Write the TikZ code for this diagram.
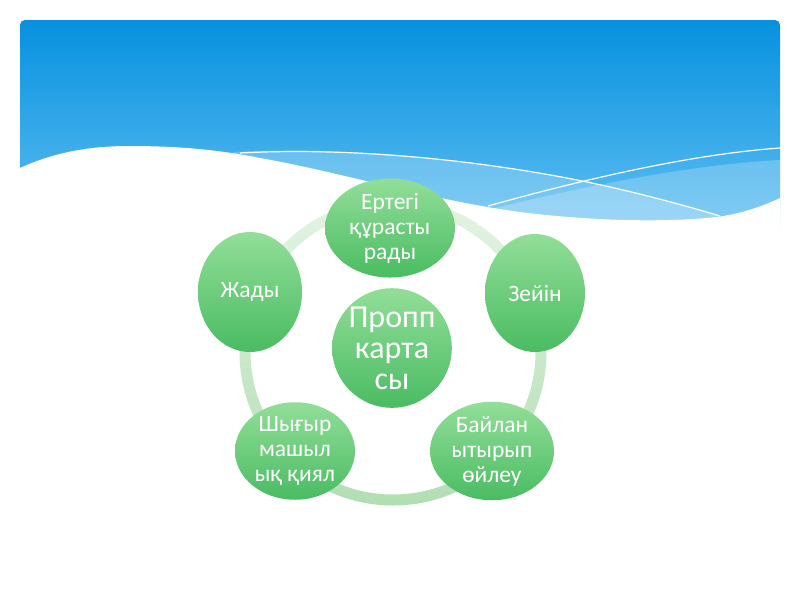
\documentclass[tikz,border=0pt]{standalone}
\usepackage{fontspec}
\setmainfont{Carlito}
\usetikzlibrary{shapes.geometric}
\definecolor{bluetop}{RGB}{6,145,222}
\definecolor{bluebot}{RGB}{98,192,243}
\definecolor{gtop}{RGB}{146,222,152}
\definecolor{gbot}{RGB}{74,188,98}
\definecolor{ringtop}{RGB}{228,243,228}
\definecolor{ringbot}{RGB}{178,222,180}
\tikzset{
  bubble/.style={ellipse, inner sep=0pt, top color=gtop, bottom color=gbot, draw=none,
    text=white, align=center, font=\fontsize{23.5}{25}\selectfont},
  hub/.style={bubble, circle, font=\fontsize{32}{31}\selectfont},
  wline/.style={draw=white, line width=1.2pt},
  band/.style={fill=white, fill opacity=0.22}
}
\begin{document}
\begin{tikzpicture}[x=1pt,y=-1pt]
\useasboundingbox (0,0) rectangle (800,600);
\fill[white] (0,0) rectangle (800,600);
% banner
\path[top color=bluetop, bottom color=bluebot, rounded corners=5pt] (20,20) rectangle (780,235);
% light bands
\path[band] (233,152) .. controls (350,146) and (480,160) .. (587,182) .. controls (640,193) and (690,207) .. (720,216) -- (720,240) -- (233,240) -- cycle;
\path[band] (470,214) .. controls (560,192) and (680,165) .. (780,160) -- (780,240) -- (470,240) -- cycle;
% white lines
\draw[wline] (240,153) .. controls (350,147) and (480,160) .. (587,182) .. controls (640,193) and (690,207) .. (720,216);
\draw[wline] (488,206) .. controls (560,186) and (680,155) .. (780,148);
% white wave
\fill[white] (20,168) .. controls (55,152) and (90,146) .. (130,146) .. controls (180,146) and (220,150) .. (260,158) .. controls (340,172) and (430,200) .. (520,212) .. controls (600,222) and (670,222) .. (717,217) .. controls (745,213) and (765,205) .. (780,198) -- (781,240) -- (19,240) -- cycle;
% ring
\path[top color=ringtop, bottom color=ringbot, even odd rule] (393,352) circle[radius=153.5] (393,352) circle[radius=142.5];
% nodes
\node[hub, minimum size=116pt] (c) at (392,348) {Пропп\\карта\\сы};
\node[bubble, minimum width=130pt, minimum height=76pt] (n1) at (390,228) {Ертегі\\құрасты\\рады};
\node[bubble, minimum width=100pt, minimum height=118pt] (n2) at (535,293) {Зейін};
\node[bubble, minimum width=124pt, minimum height=74pt] (n3) at (492,451) {Байлан\\ытырып\\өйлеу};
\node[bubble, minimum width=120pt, minimum height=74pt] (n4) at (295,451) {Шығыр\\машыл\\ық қиял};
\node[bubble, minimum width=104pt, minimum height=120pt] (n5) at (250,292) {Жады};
\end{tikzpicture}
\end{document}
